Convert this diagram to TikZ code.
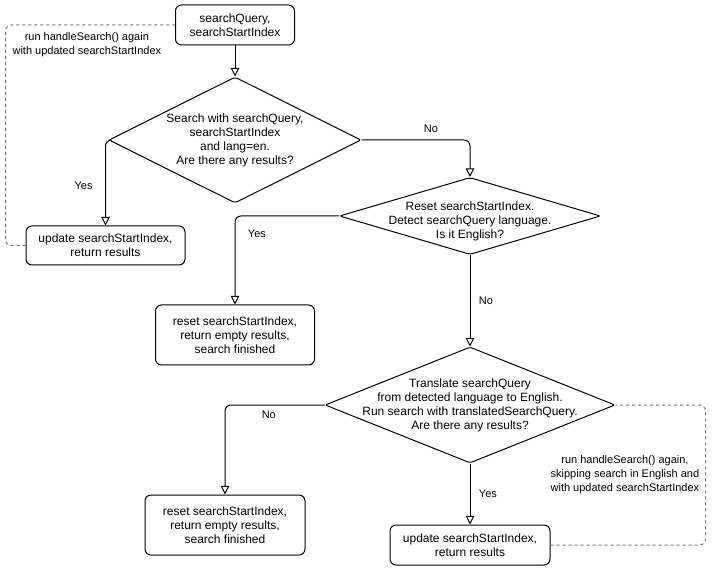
\documentclass[tikz,border=0pt]{standalone}
\usepackage{fontspec}
\setmainfont{Liberation Sans}
\usepackage{tikz}
\usetikzlibrary{shapes.geometric, arrows.meta, positioning}

\begin{document}
\begin{tikzpicture}[
    x=0.75pt, y=-0.75pt,
    box/.style={rectangle, draw, line width=0.75pt, rounded corners=4.5pt, align=center, font=\fontsize{9}{10.5}\selectfont},
    decision/.style={diamond, draw, line width=0.75pt, rounded corners=1.5pt, inner sep=0pt},
    qtext/.style={align=center, font=\fontsize{9}{10.5}\selectfont},
    flow/.style={-{Triangle[open, width=6.5pt, length=6.5pt]}, line width=0.75pt, rounded corners=4.5pt},
    loopback/.style={draw=black!55, line width=0.75pt, dash pattern=on 2.25pt off 2.25pt, rounded corners=4.5pt},
    edgetext/.style={font=\fontsize{8.25}{10}\selectfont},
    notetext/.style={font=\fontsize{8.25}{10.5}\selectfont, align=center}
]
\useasboundingbox (0,0) rectangle (713,580);

% Boxes
\node[box, minimum width=89.25pt, minimum height=30pt] (start) at (235,25) {searchQuery,\\searchStartIndex};
\node[box, minimum width=119.25pt, minimum height=29.25pt] (upd1) at (105.5,245.5) {update searchStartIndex,\\return results};
\node[box, minimum width=119.25pt, minimum height=45pt] (rst1) at (235,335) {reset searchStartIndex,\\return empty results,\\search finished};
\node[box, minimum width=120pt, minimum height=45pt] (rst2) at (225,525) {reset searchStartIndex,\\return empty results,\\search finished};
\node[box, minimum width=120pt, minimum height=30pt] (upd2) at (470,545) {update searchStartIndex,\\return results};

% Decisions
\node[decision, minimum width=189pt, minimum height=94.5pt,
    label={[qtext]center:{Search with searchQuery,\\searchStartIndex\\and lang=en.\\Are there any results?}}] (d1) at (235,140) {};
\node[decision, minimum width=195.75pt, minimum height=57.75pt,
    label={[qtext, yshift=-4pt]center:{Reset searchStartIndex.\\Detect searchQuery language.\\Is it English?}}] (d2) at (470,216) {};
\node[decision, minimum width=217.5pt, minimum height=87pt,
    label={[qtext]center:{Translate searchQuery\\from detected language to English.\\Run search with translatedSearchQuery.\\Are there any results?}}] (d3) at (470,405) {};

% Flow
\draw[flow] (start) -- (d1);
\draw[flow] (d1.west) -| node[edgetext, pos=0.77, left=6pt] {Yes} (upd1.north);
\draw[flow] (d1.east) -| node[edgetext, pos=0.32, above=2pt] {No} (d2.north);
\draw[flow] (d2.west) -| node[edgetext, pos=0.6, right=6pt] {Yes} (rst1.north);
\draw[flow] (d2) -- node[edgetext, right=3pt] {No} (d3);
\draw[flow] (d3.west) -| node[edgetext, pos=0.28, below=1pt] {No} (rst2.north);
\draw[flow] (d3) -- node[edgetext, right=3pt] {Yes} (upd2);

% Repeat search
\draw[loopback] (upd1.west) -- ++(-20,0) |- node[notetext, pos=0.74, below=2pt] {run handleSearch() again\\with updated searchStartIndex} (start.west);
\draw[loopback] (upd2.east) -- ++(155,0) |- node[notetext, pos=0.25, left=1pt] {run handleSearch() again,\\skipping search in English and\\with updated searchStartIndex} (d3.east);

\end{tikzpicture}
\end{document}
